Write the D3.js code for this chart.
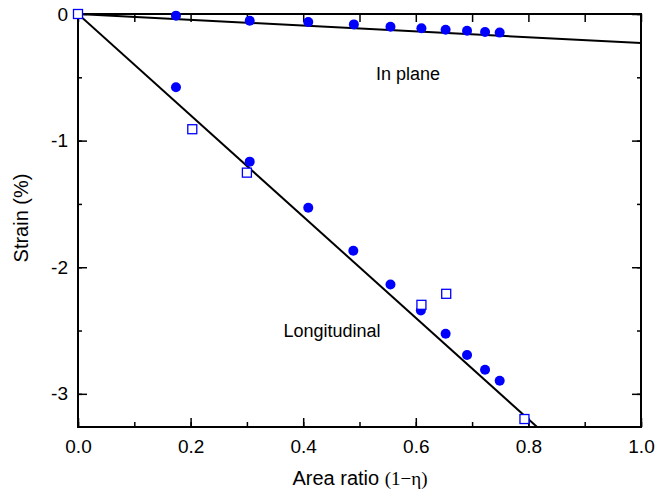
<!DOCTYPE html>
<html><head><meta charset="utf-8">
<script src="https://cdn.jsdelivr.net/npm/d3@7"></script>
<style>body{margin:0;background:#fff}svg{display:block}text{font-family:"Liberation Sans",Arial,sans-serif}</style>
</head><body>
<script>
const inPlaneX = [0.174, 0.305, 0.409, 0.490, 0.555, 0.610, 0.653, 0.691, 0.723, 0.749];
const inPlaneY = [-0.013, -0.053, -0.063, -0.082, -0.100, -0.113, -0.124, -0.132, -0.142, -0.147];
const longX = [0.174, 0.305, 0.409, 0.489, 0.555, 0.609, 0.653, 0.691, 0.723, 0.749];
const longY = [-0.578, -1.166, -1.531, -1.870, -2.136, -2.342, -2.526, -2.694, -2.810, -2.897];
const squareX = [0.0, 0.203, 0.300, 0.610, 0.654, 0.793];
const squareY = [0.0, -0.910, -1.253, -2.297, -2.210, -3.199];
const inPlaneFit = [[0, 0], [1, -0.229]];
const longFit = [[0, 0], [0.815, -3.26]];
const xTicks = [0.0, 0.2, 0.4, 0.6, 0.8, 1.0];
const yTicks = [0, -1, -2, -3];

const W = 670, H = 493;
const m = {l: 78, r: 29, t: 14, b: 66};
const svg = d3.select("body").append("svg").attr("width", W).attr("height", H);
const x = d3.scaleLinear().domain([0, 1]).range([m.l, W - m.r]);
const y = d3.scaleLinear().domain([-3.262, 0]).range([H - m.b, m.t]);
const blue = "#0000ff";

// fit lines
const line = d3.line().x(d => x(d[0])).y(d => y(d[1]));
svg.append("clipPath").attr("id", "c").append("rect")
  .attr("x", m.l).attr("y", m.t).attr("width", W - m.r - m.l).attr("height", H - m.b - m.t);
const g = svg.append("g").attr("clip-path", "url(#c)");
g.append("path").datum(inPlaneFit).attr("d", line).attr("stroke", "#000").attr("stroke-width", 2).attr("fill", "none");
g.append("path").datum(longFit).attr("d", line).attr("stroke", "#000").attr("stroke-width", 2).attr("fill", "none");

// axes (inward ticks)
const minorX = d3.range(0, 1.0001, 0.1);
const minorY = d3.range(-3, 0.0001, 0.5);
const noDomain = a => a.select(".domain").remove();
svg.append("g").attr("transform", `translate(0,${H - m.b})`)
  .call(d3.axisTop(x).tickValues(minorX).tickSize(5).tickFormat("")).call(noDomain);
svg.append("g").attr("transform", `translate(0,${H - m.b})`)
  .call(d3.axisTop(x).tickValues(xTicks).tickSize(9).tickFormat("")).call(noDomain);
svg.append("g").attr("transform", `translate(0,${H - m.b})`)
  .call(d3.axisBottom(x).tickValues(xTicks).tickSize(0).tickPadding(13).tickFormat(d3.format(".1f")))
  .call(noDomain)
  .selectAll("text").attr("font-size", 19).attr("fill", "#000").attr("font-family", "Liberation Sans, Arial, sans-serif");
svg.append("g").attr("transform", `translate(0,${m.t})`)
  .call(d3.axisBottom(x).tickValues(minorX).tickSize(8).tickFormat("")).call(noDomain);
svg.append("g").attr("transform", `translate(${m.l},0)`)
  .call(d3.axisRight(y).tickValues(minorY).tickSize(4).tickFormat("")).call(noDomain);
svg.append("g").attr("transform", `translate(${m.l},0)`)
  .call(d3.axisRight(y).tickValues(yTicks).tickSize(9).tickFormat("")).call(noDomain);
svg.append("g").attr("transform", `translate(${m.l},0)`)
  .call(d3.axisLeft(y).tickValues(yTicks).tickSize(0).tickPadding(10).tickFormat(d => String(d)))
  .call(noDomain)
  .selectAll("text").attr("font-size", 19).attr("fill", "#000").attr("font-family", "Liberation Sans, Arial, sans-serif");
svg.append("g").attr("transform", `translate(${W - m.r},0)`)
  .call(d3.axisLeft(y).tickValues(minorY).tickSize(4).tickFormat("")).call(noDomain);
svg.append("g").attr("transform", `translate(${W - m.r},0)`)
  .call(d3.axisLeft(y).tickValues(yTicks).tickSize(9).tickFormat("")).call(noDomain);
svg.selectAll(".tick line").attr("stroke", "#000").attr("stroke-width", 1.5);
svg.append("rect").attr("x", m.l).attr("y", m.t).attr("width", W - m.r - m.l).attr("height", H - m.b - m.t)
  .attr("fill", "none").attr("stroke", "#000").attr("stroke-width", 2);

// points
svg.append("g").selectAll("circle").data(inPlaneX.map((v, i) => [v, inPlaneY[i]])).join("circle")
  .attr("cx", d => x(d[0])).attr("cy", d => y(d[1])).attr("r", 5).attr("fill", blue);
svg.append("g").selectAll("circle").data(longX.map((v, i) => [v, longY[i]])).join("circle")
  .attr("cx", d => x(d[0])).attr("cy", d => y(d[1])).attr("r", 5).attr("fill", blue);
svg.append("g").selectAll("rect").data(squareX.map((v, i) => [v, squareY[i]])).join("rect")
  .attr("x", d => x(d[0]) - 4.5).attr("y", d => y(d[1]) - 4.5).attr("width", 9).attr("height", 9)
  .attr("fill", "#fff").attr("stroke", blue).attr("stroke-width", 1.3);

// annotations
svg.append("text").attr("x", 408).attr("y", 80).attr("text-anchor", "middle").attr("font-size", 18).text("In plane");
svg.append("text").attr("x", 332).attr("y", 337).attr("text-anchor", "middle").attr("font-size", 18).text("Longitudinal");

// axis titles
const xt = svg.append("text").attr("x", 360).attr("y", 485).attr("text-anchor", "middle").attr("font-size", 20);
xt.append("tspan").text("Area ratio ");
xt.append("tspan").attr("font-family", "Liberation Serif, Times New Roman, serif").attr("font-size", 19).text("(1\u2212\u03B7)");
svg.append("text").attr("transform", "translate(28,218) rotate(-90)").attr("text-anchor", "middle")
  .attr("font-size", 20).text("Strain (%)");
</script>
</body></html>
